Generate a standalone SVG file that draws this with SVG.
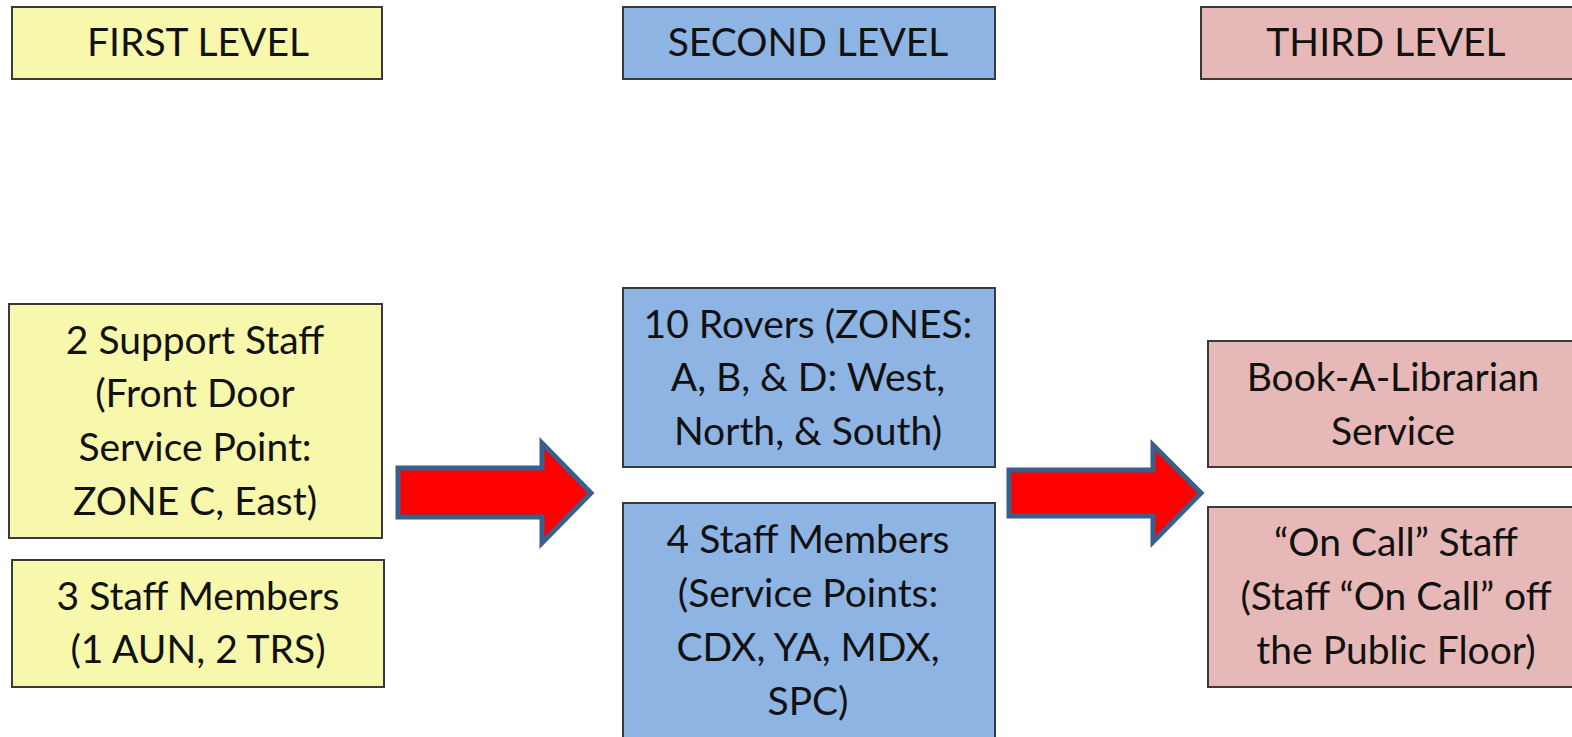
<svg xmlns="http://www.w3.org/2000/svg" width="1572" height="737" viewBox="0 0 1572 737">
<style>
.box{stroke:#3a3a3a;stroke-width:2}
.y{fill:#F8F8AD}
.b{fill:#8EB4E3}
.p{fill:#E6B9B8}
text{font-family:Lato,"Liberation Sans",sans-serif;font-size:39px;fill:#111;text-anchor:middle}
.arrow{fill:#FF0000;stroke:#3A5F8B;stroke-width:5;stroke-linejoin:miter}
</style>
<rect width="1572" height="737" fill="#fff"/>
<g id="first-level">
<rect class="box y" x="12" y="7" width="370" height="72"/>
<text x="198" y="56">FIRST LEVEL</text>
</g>
<g id="second-level">
<rect class="box b" x="623" y="7" width="372" height="72"/>
<text x="808" y="56">SECOND LEVEL</text>
</g>
<g id="third-level">
<rect class="box p" x="1201" y="7" width="375" height="72"/>
<text x="1386" y="56">THIRD LEVEL</text>
</g>
<g id="support-staff">
<rect class="box y" x="9" y="304" width="373" height="234"/>
<text x="195" y="354">2 Support Staff</text>
<text x="195" y="407">(Front Door</text>
<text x="195" y="461">Service Point:</text>
<text x="195" y="515">ZONE C, East)</text>
</g>
<g id="staff-members-3">
<rect class="box y" x="12" y="560" width="372" height="127"/>
<text x="198" y="610">3 Staff Members</text>
<text x="198" y="663">(1 AUN, 2 TRS)</text>
</g>
<g id="rovers">
<rect class="box b" x="623" y="288" width="372" height="179"/>
<text x="808" y="338">10 Rovers (ZONES:</text>
<text x="808" y="391">A, B, &amp; D: West,</text>
<text x="808" y="445">North, &amp; South)</text>
</g>
<g id="staff-members-4">
<rect class="box b" x="623" y="503" width="372" height="240"/>
<text x="808" y="553">4 Staff Members</text>
<text x="808" y="607">(Service Points:</text>
<text x="808" y="661">CDX, YA, MDX,</text>
<text x="808" y="715">SPC)</text>
</g>
<g id="book-a-librarian">
<rect class="box p" x="1208" y="341" width="370" height="126"/>
<text x="1393" y="391">Book-A-Librarian</text>
<text x="1393" y="445">Service</text>
</g>
<g id="on-call">
<rect class="box p" x="1208" y="507" width="370" height="180"/>
<text x="1396" y="556">“On Call” Staff</text>
<text x="1396" y="610">(Staff “On Call” off</text>
<text x="1396" y="664">the Public Floor)</text>
</g>
<g id="connectors">
<polygon class="arrow" points="398,468 542,468 542,443 591,493 542,543 542,517 398,517"/>
<polygon class="arrow" points="1009,470 1153,470 1153,445 1201,493 1153,542 1153,516 1009,516"/>
</g>
</svg>
